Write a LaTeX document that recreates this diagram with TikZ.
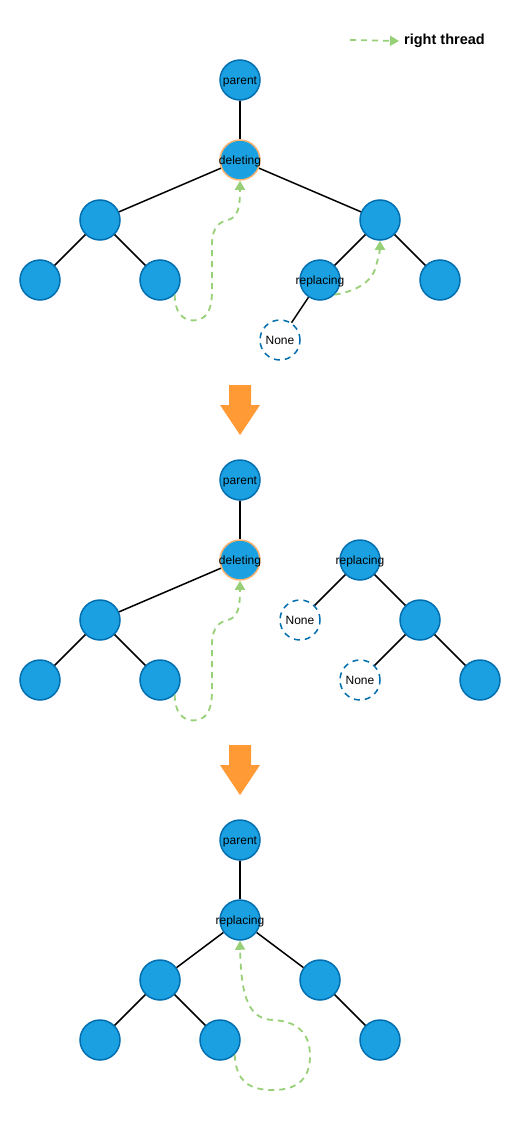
\documentclass[tikz,border=0pt]{standalone}
\usepackage{fontspec}
\setmainfont{Liberation Sans}
\usetikzlibrary{arrows.meta, positioning}

\definecolor{nodeblue}{HTML}{1BA1E2}
\definecolor{nodeline}{HTML}{006EAF}
\definecolor{delorange}{HTML}{FFB570}
\definecolor{bigorange}{HTML}{FF9A35}
\definecolor{threadgreen}{HTML}{97D077}

\begin{document}
\begin{tikzpicture}[x=1pt, y=-1pt, font=\fontsize{12}{14}\selectfont,
    every label/.style={yshift=-1.5pt}]
    % Define styles
    \tikzstyle{tnode} = [circle, draw=nodeline, fill=nodeblue, line width=1.5pt, minimum size=40pt, inner sep=0pt]
    \tikzstyle{nonenode} = [circle, draw=nodeline, fill=white, line width=1.5pt, dash pattern=on 6pt off 5pt, minimum size=40pt, inner sep=0pt]
    \tikzstyle{link} = [draw, line width=1.5pt]
    \tikzstyle{thread} = [draw=threadgreen, line width=1.8pt, dash pattern=on 6pt off 5pt, -{Triangle[width=10pt,length=9pt]}]
    \tikzstyle{bigarrow} = [fill=bigorange]

    \useasboundingbox (0,0) rectangle (521,1121);

    % Legend
    \coordinate (legA) at (350,40);
    \node[anchor=west, inner sep=0pt, font=\fontsize{14.5}{16}\selectfont\bfseries] (legtxt) at (404,41) {right thread};
    \draw[thread] (legA) -- ([xshift=-5pt]legtxt.west);

    % Stage 1 tree
    \node[tnode, label=center:parent] (par1) at (240,80) {};
    \node[tnode, draw=delorange, label=center:deleting] (del1) at (240,160) {};
    \node[tnode] (l1) at (100,220) {};
    \node[tnode] (r1) at (380,220) {};
    \node[tnode] (ll1) at (40,280) {};
    \node[tnode] (lr1) at (160,280) {};
    \node[tnode, label=center:replacing] (rep1) at (320,280) {};
    \node[tnode] (rr1) at (440,280) {};
    \node[nonenode] (none1) at (280,340) {None};

    \draw[link] (par1) -- (del1);
    \draw[link] (del1) -- (l1);
    \draw[link] (del1) -- (r1);
    \draw[link] (l1) -- (ll1);
    \draw[link] (l1) -- (lr1);
    \draw[link] (r1) -- (rep1);
    \draw[link] (r1) -- (rr1);
    \draw[link] (rep1) -- (none1);

    % Right threads, stage 1
    \draw[thread] (lr1.south east) .. controls (175,318) and (188,322) .. (197,320)
        .. controls (208,318) and (212,308) .. (212,290) -- (212,245)
        .. controls (212,226) and (220,222) .. (228,220)
        .. controls (238,217) and (240,208) .. (del1.south);
    \draw[thread] (rep1.south east) .. controls (352,292) and (372,284) .. (376,266)
        .. controls (379,255) and (380,250) .. (r1.south);

    % Orange arrow 1
    \fill[bigarrow] (229,385) -- (251,385) -- (251,405) -- (260,405) -- (240,435) -- (220,405) -- (229,405) -- cycle;

    % Stage 2 tree
    \node[tnode, label=center:parent] (par2) at (240,480) {};
    \node[tnode, draw=delorange, label=center:deleting] (del2) at (240,560) {};
    \node[tnode] (l2) at (100,620) {};
    \node[tnode] (ll2) at (40,680) {};
    \node[tnode] (lr2) at (160,680) {};
    \node[tnode, label=center:replacing] (rep2) at (360,560) {};
    \node[nonenode] (nonea2) at (300,620) {None};
    \node[tnode] (r2) at (420,620) {};
    \node[nonenode] (noneb2) at (360,680) {None};
    \node[tnode] (rr2) at (480,680) {};

    \draw[link] (par2) -- (del2);
    \draw[link] (del2) -- (l2);
    \draw[link] (l2) -- (ll2);
    \draw[link] (l2) -- (lr2);
    \draw[link] (rep2) -- (nonea2);
    \draw[link] (rep2) -- (r2);
    \draw[link] (r2) -- (noneb2);
    \draw[link] (r2) -- (rr2);

    % Right thread, stage 2
    \draw[thread] (lr2.south east) .. controls (175,718) and (188,722) .. (197,720)
        .. controls (208,718) and (212,708) .. (212,690) -- (212,645)
        .. controls (212,626) and (220,622) .. (228,620)
        .. controls (238,617) and (240,608) .. (del2.south);

    % Orange arrow 2
    \fill[bigarrow] (229,745) -- (251,745) -- (251,765) -- (260,765) -- (240,795) -- (220,765) -- (229,765) -- cycle;

    % Stage 3 tree
    \node[tnode, label=center:parent] (par3) at (240,840) {};
    \node[tnode, label=center:replacing] (rep3) at (240,920) {};
    \node[tnode] (l3) at (160,980) {};
    \node[tnode] (r3) at (320,980) {};
    \node[tnode] (ll3) at (100,1040) {};
    \node[tnode] (lr3) at (220,1040) {};
    \node[tnode] (rr3) at (380,1040) {};

    \draw[link] (par3) -- (rep3);
    \draw[link] (rep3) -- (l3);
    \draw[link] (rep3) -- (r3);
    \draw[link] (l3) -- (ll3);
    \draw[link] (l3) -- (lr3);
    \draw[link] (r3) -- (rr3);

    % Right thread, stage 3
    \draw[thread] (lr3.south east) .. controls (236,1082) and (250,1090) .. (273,1090)
        .. controls (300,1090) and (310,1076) .. (310,1056)
        .. controls (310,1032) and (296,1021) .. (273,1020)
        .. controls (250,1019) and (241,1000) .. (rep3.south);

\end{tikzpicture}
\end{document}
